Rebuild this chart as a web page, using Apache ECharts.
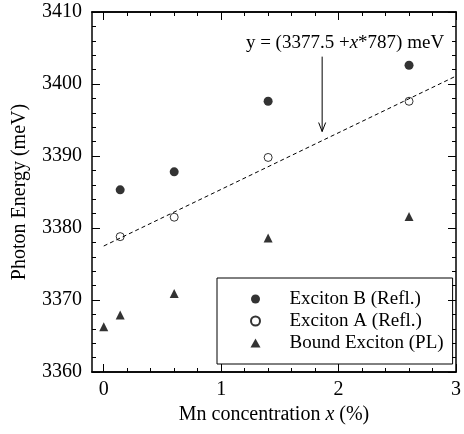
<!DOCTYPE html>
<html><head><meta charset="utf-8">
<script src="https://cdn.jsdelivr.net/npm/echarts@6/dist/echarts.min.js"></script>
<style>html,body{margin:0;padding:0;background:#fff}#c{width:464px;height:434px}</style>
</head><body><div id="c"></div>
<script>
const xB = [0.14, 0.6, 1.4, 2.6];
const yB = [3385.3, 3387.8, 3397.6, 3402.6];
const xA = [0.14, 0.6, 1.4, 2.6];
const yA = [3378.8, 3381.5, 3389.8, 3397.6];
const xBound = [0, 0.14, 0.6, 1.4, 2.6];
const yBound = [3366.3, 3367.9, 3370.9, 3378.6, 3381.6];
const fitX = [0, 3];
const fitY = [3377.5, 3401.1];
const arrowX = 1.86, arrowTop = 3403.8, arrowTip = 3393.4;
const xMajor = [0, 1, 2, 3];
const xMinor = [0.2,0.4,0.6,0.8,1.2,1.4,1.6,1.8,2.2,2.4,2.6,2.8];
const names = ['Exciton B (Refl.)', 'Exciton A (Refl.)', 'Bound Exciton (PL)'];

const FF = '"Liberation Serif", "Times New Roman", serif';
const zip = (xs, ys) => xs.map((x, i) => [x, ys[i]]);

function xAx(pos, vals, len, labels, extra) {
  return Object.assign({
    type: 'value', position: pos, min: -0.1, max: 3,
    axisLine: {show: true, onZero: false, lineStyle: {color: '#000', width: 1.5}},
    axisTick: {show: true, inside: true, length: len, customValues: vals, lineStyle: {color: '#000', width: 1}},
    axisLabel: labels ? {show: true, customValues: vals, fontSize: 20, fontFamily: FF, color: '#000', margin: 8} : {show: false},
    splitLine: {show: false}
  }, extra || {});
}
function yAx(pos, labels, extra) {
  return Object.assign({
    type: 'value', position: pos, min: 3360, max: 3410, interval: 10,
    axisLine: {show: true, onZero: false, lineStyle: {color: '#000', width: 1.5}},
    axisTick: {show: true, inside: true, length: 8, lineStyle: {color: '#000', width: 1}},
    minorTick: {show: true, splitNumber: 5, length: 4, lineStyle: {color: '#000', width: 1}},
    axisLabel: labels ? {show: true, fontSize: 20, fontFamily: FF, color: '#000', margin: 10,
      formatter: v => String(v)} : {show: false},
    splitLine: {show: false}, minorSplitLine: {show: false}
  }, extra || {});
}

const chart = echarts.init(document.getElementById('c'));
chart.setOption({
  animation: false,
  backgroundColor: '#fff',
  grid: {left: 92, right: 3, top: 12, bottom: 62},
  xAxis: [
    xAx('bottom', xMajor, 8, true, {name: 'Mn concentration {i|x} (%)', nameLocation: 'middle', nameGap: 30,
      nameTextStyle: {fontSize: 20, fontFamily: FF, color: '#000',
        rich: {i: {fontStyle: 'italic', fontSize: 20, fontFamily: FF, color: '#000'}}}}),
    xAx('bottom', xMinor, 4, false),
    xAx('top', xMajor, 8, false),
    xAx('top', xMinor, 4, false)
  ],
  yAxis: [
    yAx('left', true, {name: 'Photon Energy (meV)', nameLocation: 'middle', nameGap: 62,
      nameTextStyle: {fontSize: 20, fontFamily: FF, color: '#000'}}),
    yAx('right', false)
  ],
  legend: {
    data: names, orient: 'vertical', left: 217, top: 278,
    padding: [10, 9, 10, 33], itemWidth: 10, itemHeight: 9, itemGap: 0,
    symbolKeepAspect: true,
    borderColor: '#000', borderWidth: 1,
    textStyle: {fontSize: 19, fontFamily: FF, color: '#000', lineHeight: 22, padding: [0, 0, 0, 24]}
  },
  graphic: [{
    type: 'text', x: 345, y: 43,
    style: {text: 'y = (3377.5 +{i|x}*787) meV', fontSize: 19, fontFamily: FF, fill: '#000',
      align: 'center', verticalAlign: 'middle',
      rich: {i: {fontStyle: 'italic', fontSize: 19, fontFamily: FF, fill: '#000'}}}
  }],
  series: [
    {name: names[0], type: 'scatter', symbol: 'circle', symbolSize: 9, data: zip(xB, yB),
      itemStyle: {color: '#000'}},
    {name: names[1], type: 'scatter', symbol: 'circle', symbolSize: 8, data: zip(xA, yA),
      itemStyle: {color: '#fff', borderColor: '#000', borderWidth: 1}},
    {name: names[2], type: 'scatter', symbol: 'triangle', symbolSize: 9, symbolKeepAspect: true, data: zip(xBound, yBound),
      itemStyle: {color: '#000'}},
    {name: 'fit', type: 'line', data: zip(fitX, fitY), symbol: 'none', silent: true,
      lineStyle: {color: '#000', width: 1, type: [4, 3]}},
    {name: 'arrow', type: 'custom', data: [[arrowX, arrowTop, arrowTip]], silent: true,
      renderItem: function (params, api) {
        const a = api.coord([api.value(0), api.value(1)]);
        const b = api.coord([api.value(0), api.value(2)]);
        const st = {stroke: '#000', lineWidth: 1, fill: 'none'};
        return {type: 'group', children: [
          {type: 'line', shape: {x1: a[0], y1: a[1], x2: b[0], y2: b[1]}, style: st},
          {type: 'polyline', shape: {points: [[b[0] - 3.5, b[1] - 9], [b[0], b[1]], [b[0] + 3.5, b[1] - 9]]}, style: st}
        ]};
      }}
  ]
});
</script></body></html>
